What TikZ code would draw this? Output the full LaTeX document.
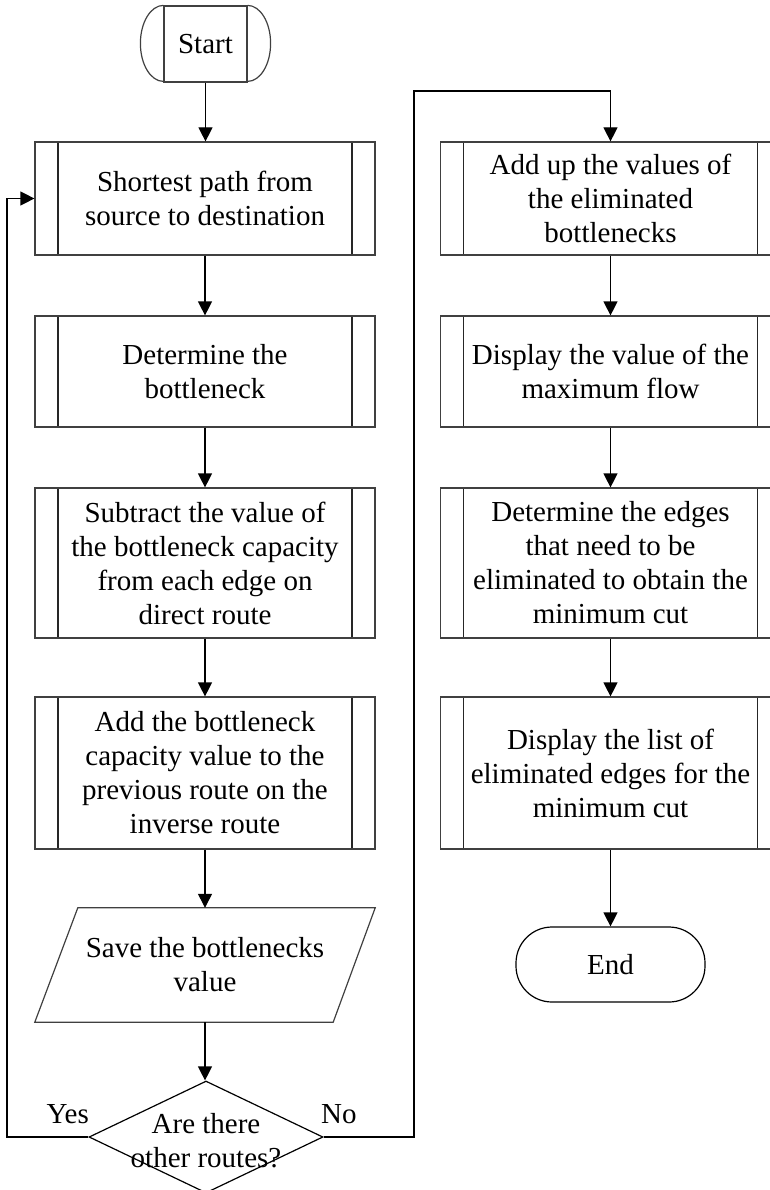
\documentclass[tikz,border=0pt]{standalone}
\usepackage{fontspec}
\setmainfont{Liberation Serif}
\usetikzlibrary{arrows.meta,shapes.geometric}
\begin{document}
\begin{tikzpicture}[x=1pt,y=-1pt,
  font=\fontsize{29}{34}\selectfont,
  boxline/.style={draw=black!75, line width=1.2pt},
  box/.style={boxline, minimum width=340pt, align=center, inner sep=0pt,
    path picture={\draw[line width=1.2pt, black!85]
      ([xshift=23pt]path picture bounding box.north west) -- ([xshift=23pt]path picture bounding box.south west)
      ([xshift=-23pt]path picture bounding box.north east) -- ([xshift=-23pt]path picture bounding box.south east);}},
  conn/.style={line width=1.2pt, -{Triangle[length=14pt,width=14pt]}},
  txt/.style={align=center, inner sep=0pt}
]
\useasboundingbox (0,0) rectangle (770,1190);

% start
\node[boxline, minimum width=83pt, minimum height=76pt, inner sep=0pt] (s) at (205.5,44) {Start};
\draw[boxline] (s.north west) arc[start angle=90,end angle=270,x radius=23pt,y radius=38pt];
\draw[boxline] (s.north east) arc[start angle=90,end angle=-90,x radius=23pt,y radius=38pt];

% left column
\node[box, minimum height=113pt] (b1) at (205,198.5) {Shortest path from\\source to destination};
\node[box, minimum height=111pt] (b2) at (205,371.5) {Determine the\\bottleneck};
\node[box, minimum height=150pt] (b3) at (205,563) {Subtract the value of\\the bottleneck capacity\\from each edge on\\direct route};
\node[box, minimum height=152pt] (b4) at (205,773) {Add the bottleneck\\capacity value to the\\previous route on the\\inverse route};
\node[txt, minimum width=340pt, minimum height=114pt] (p) at (205,965) {Save the bottlenecks\\value};
\draw[boxline] ([xshift=43pt]p.north west) -- (p.north east) -- ([xshift=-42pt]p.south east) -- (p.south west) -- cycle;
\node[diamond, draw, line width=1.2pt, minimum width=234pt, minimum height=112pt, inner sep=0pt] (d) at (206,1137) {};
\node[txt] (dt) at (206,1141) {Are there\\other routes?};
\node[anchor=base east, inner sep=0pt] (yes) at (89,1123) {Yes};
\node[anchor=base west, inner sep=0pt] (no) at (321,1123) {No};

% right column
\node[box, minimum height=113pt] (r1) at (610.5,198.5) {Add up the values of\\the eliminated\\bottlenecks};
\node[box, minimum height=111pt] (r2) at (610.5,371.5) {Display the value of the\\maximum flow};
\node[box, minimum height=150pt] (r3) at (610.5,563) {Determine the edges\\that need to be\\eliminated to obtain the\\minimum cut};
\node[box, minimum height=152pt] (r4) at (610.5,773) {Display the list of\\eliminated edges for the\\minimum cut};
\node[draw, line width=1.2pt, rounded corners=36pt, minimum width=189pt, minimum height=75pt] (e) at (610.5,964.5) {End};

% connectors
\coordinate (yl) at (7,0);
\coordinate (nr) at (414,91);
\draw[conn] (s.south) -- (s.south |- b1.north);
\draw[conn] (b1) -- (b2);
\draw[conn] (b2) -- (b3);
\draw[conn] (b3) -- (b4);
\draw[conn] (b4) -- (b4.south |- p.north);
\draw[conn] (p) -- (p |- d.north);
\draw[conn] (d.west) -- (d.west -| yl) -- (yl |- b1.west) -- (b1.west);
\draw[conn] (d.east) -- (d.east -| nr) -- (nr) -- (nr -| r1.north) -- (r1.north);
\draw[conn] (r1) -- (r2);
\draw[conn] (r2) -- (r3);
\draw[conn] (r3) -- (r4);
\draw[conn] (r4) -- (e);
\end{tikzpicture}
\end{document}
